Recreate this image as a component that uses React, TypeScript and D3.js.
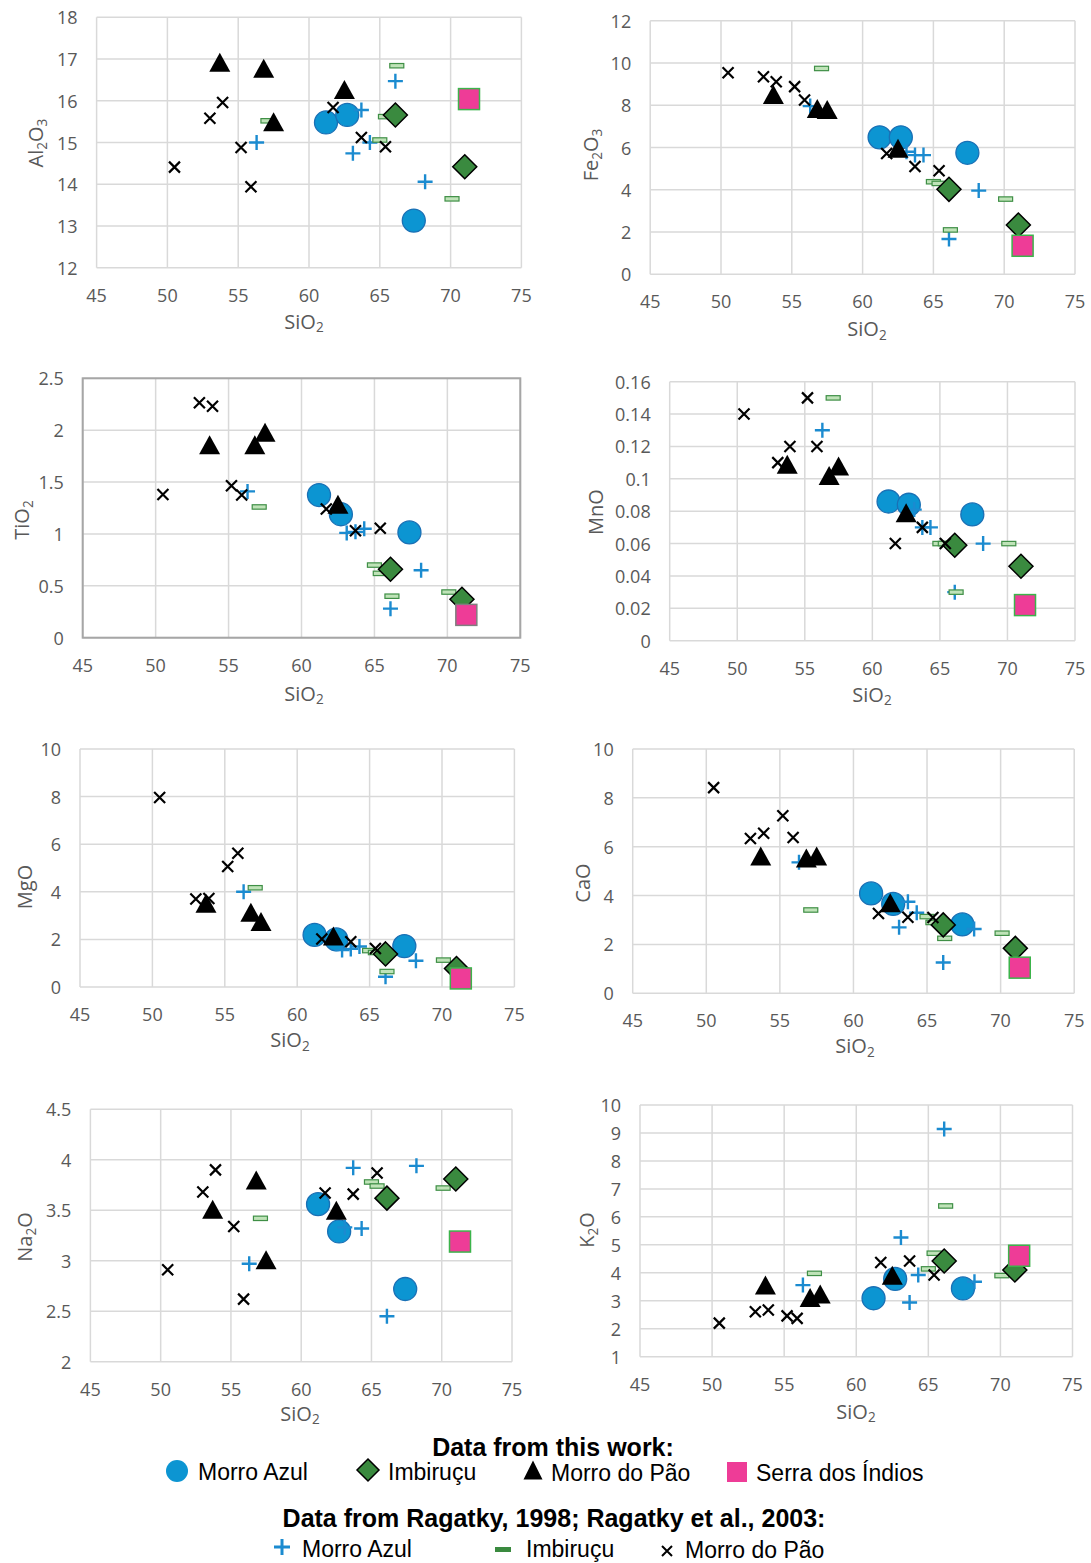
import React from "react";
import * as d3 from "d3";

const FONT = "'Open Sans', 'Noto Sans', sans-serif";
const LEG_FONT = "'Liberation Sans', Arial, sans-serif";

// SiO2 (x values) by sample group
// Data from this work
const maSiO2 = [61.2, 62.7, 67.4]; // Morro Azul
const imSiO2 = [66.1, 71.0]; // Imbiruçu
const mpSiO2 = [53.7, 56.8, 57.5, 62.5]; // Morro do Pão
const sdiSiO2 = [71.3]; // Serra dos Índios
// Data from Ragatky
const rMaSiO2 = [56.3, 63.1, 63.7, 64.3, 66.1, 68.2];
const rImSiO2 = [57.1, 65.0, 65.4, 66.2, 70.1];
const rMpSiO2 = [50.5, 53.0, 53.9, 55.2, 55.9, 61.7, 63.7, 65.4];

// Oxide values (y) per panel, in the same order as the SiO2 arrays
const al2o3 = {
  ma: [15.48, 15.66, 13.13], im: [15.66, 14.42], mp: [16.92, 16.78, 15.5, 16.27], sdi: [16.04],
  rMa: [15.0, 14.74, 15.78, 15.0, 16.47, 14.06],
  rIm: [15.52, 15.06, 15.62, 16.84, 13.65],
  rMp: [14.41, 15.58, 15.96, 14.88, 13.94, 15.84, 15.12, 14.9],
};
const fe2o3 = {
  ma: [6.48, 6.48, 5.75], im: [4.02, 2.33], mp: [8.51, 7.85, 7.8, 5.96], sdi: [1.35],
  rMa: [7.96, 5.8, 5.64, 5.64, 1.67, 3.96],
  rIm: [9.74, 4.38, 4.3, 2.1, 3.56],
  rMp: [9.54, 9.35, 9.11, 8.88, 8.25, 5.72, 5.1, 4.9],
};
const tio2 = {
  ma: [1.375, 1.19, 1.015], im: [0.66, 0.37], mp: [1.86, 1.86, 1.98, 1.285], sdi: [0.22],
  rMa: [1.41, 1.01, 1.02, 1.05, 0.28, 0.65],
  rIm: [1.26, 0.7, 0.62, 0.4, 0.44],
  rMp: [1.38, 2.265, 2.23, 1.465, 1.375, 1.24, 1.03, 1.054],
};
const mno = {
  ma: [0.086, 0.084, 0.078], im: [0.059, 0.046], mp: [0.109, 0.102, 0.108, 0.079], sdi: [0.022],
  rMa: [0.13, 0.081, 0.07, 0.07, 0.03, 0.06],
  rIm: [0.15, 0.06, 0.06, 0.03, 0.06],
  rMp: [0.14, 0.11, 0.12, 0.15, 0.12, 0.06, 0.07, 0.06],
};
const mgo = {
  ma: [2.19, 2.0, 1.72], im: [1.39, 0.78], mp: [3.52, 3.14, 2.75, 2.14], sdi: [0.36],
  rMa: [4.0, 1.55, 1.6, 1.7, 0.43, 1.1],
  rIm: [4.17, 1.53, 1.45, 0.65, 1.13],
  rMp: [7.96, 3.7, 3.72, 5.06, 5.62, 2.02, 1.9, 1.62],
};
const cao = {
  ma: [4.09, 3.66, 2.82], im: [2.8, 1.84], mp: [5.62, 5.54, 5.62, 3.71], sdi: [1.05],
  rMa: [5.36, 2.7, 3.75, 3.3, 1.26, 2.63],
  rIm: [3.41, 3.14, 2.9, 2.25, 2.46],
  rMp: [8.42, 6.34, 6.55, 7.27, 6.38, 3.27, 3.11, 3.1],
};
const na2o = {
  ma: [3.56, 3.29, 2.72], im: [3.62, 3.81], mp: [3.51, 3.8, 3.01, 3.5], sdi: [3.19],
  rMa: [2.97, 3.33, 3.92, 3.32, 2.45, 3.94],
  rIm: [3.42, 3.78, 3.74, 3.62, 3.72],
  rMp: [2.91, 3.68, 3.9, 3.34, 2.62, 3.67, 3.66, 3.87],
};
const k2o = {
  ma: [3.09, 3.78, 3.44], im: [4.42, 4.1], mp: [3.56, 3.12, 3.24, 3.91], sdi: [4.61],
  rMa: [3.56, 5.26, 2.94, 3.92, 9.14, 3.68],
  rIm: [3.98, 4.14, 4.7, 6.39, 3.9],
  rMp: [2.2, 2.61, 2.67, 2.46, 2.37, 4.37, 4.42, 3.92],
};

const xDomain = [45, 75];
const xStep = 5;

// Axis definitions (label, y range, tick step)
const panelAxes = [
  { label: "Al2O3", data: al2o3, domain: [12, 18], step: 1 },
  { label: "Fe2O3", data: fe2o3, domain: [0, 12], step: 2 },
  { label: "TiO2", data: tio2, domain: [0, 2.5], step: 0.5 },
  { label: "MnO", data: mno, domain: [0, 0.16], step: 0.02 },
  { label: "MgO", data: mgo, domain: [0, 10], step: 2 },
  { label: "CaO", data: cao, domain: [0, 10], step: 2 },
  { label: "Na2O", data: na2o, domain: [2, 4.5], step: 0.5 },
  { label: "K2O", data: k2o, domain: [1, 10], step: 1 },
];

// Layout (pixel boxes)
const panelLayout = [
  { x0: 96.6, x1: 521.4, y0: 17.3, y1: 267.7, lx: 35, ly: 143, tx: 304, tdy: 53, frame: false },
  { x0: 650.2, x1: 1075, y0: 20.7, y1: 274.3, lx: 590, ly: 155, tx: 867, tdy: 54, frame: false },
  { x0: 82.7, x1: 520.3, y0: 378.3, y1: 637.7, lx: 21, ly: 520, tx: 304, tdy: 55, frame: true },
  { x0: 669.7, x1: 1075, y0: 381.7, y1: 640.7, lx: 595, ly: 512, tx: 872, tdy: 53, frame: false },
  { x0: 80, x1: 514.4, y0: 749, y1: 987, lx: 24, ly: 887, tx: 290, tdy: 52, frame: false },
  { x0: 632.7, x1: 1074.2, y0: 749, y1: 993.3, lx: 582, ly: 883, tx: 855, tdy: 52, frame: false },
  { x0: 90.4, x1: 512, y0: 1109.3, y1: 1361.7, lx: 24, ly: 1237, tx: 300, tdy: 51, frame: false },
  { x0: 640, x1: 1072.5, y0: 1105, y1: 1356.7, lx: 586, ly: 1230, tx: 856, tdy: 54, frame: false },
];

const C_BLUE = "#0c95d2";
const C_BLUE_S = "#1a70b5";
const C_GREEN = "#3a8a3f";
const C_PINK = "#ee3c97";
const C_PLUS = "#1b8bd0";
const GRID = "#d9d9d9";
const TXT = "#595959";
const TICK_FS = 18;
const TITLE_FS = 20;

function chem(text: string, fs: number) {
  const parts = text.split(/(\d+)/).filter((p) => p.length > 0);
  const out: any[] = [];
  let prevSub = false;
  parts.forEach((p, i) => {
    const isSub = /^\d+$/.test(p);
    if (isSub) {
      out.push(
        <tspan key={i} fontSize={fs * 0.68} dy={fs * 0.28}>
          {p}
        </tspan>
      );
    } else {
      out.push(
        <tspan key={i} fontSize={fs} dy={prevSub ? -fs * 0.28 : 0}>
          {p}
        </tspan>
      );
    }
    prevSub = isSub;
  });
  return out;
}

const triPath = (w: number, h: number) => `M0,${-h / 2}L${w / 2},${h / 2}L${-w / 2},${h / 2}Z`;
const diaPath = (r: number) => `M0,${-r}L${r},0L0,${r}L${-r},0Z`;

function Circle({ x, y }: any) {
  return <circle cx={x} cy={y} r={11.5} fill={C_BLUE} stroke={C_BLUE_S} strokeWidth={1.3} />;
}
function Diamond({ x, y }: any) {
  return <path transform={`translate(${x},${y})`} d={diaPath(12)} fill={C_GREEN} stroke="#000" strokeWidth={1.5} />;
}
function Tri({ x, y }: any) {
  return <path transform={`translate(${x},${y})`} d={triPath(21, 19)} fill="#000" />;
}
function Square({ x, y, stroke }: any) {
  return <rect x={x - 10.5} y={y - 10.5} width={21} height={21} fill={C_PINK} stroke={stroke || "#3cb44b"} strokeWidth={1.5} />;
}
function Plus({ x, y, s = 7.5, w = 2.4 }: any) {
  return (
    <path d={`M${x - s},${y}H${x + s}M${x},${y - s}V${y + s}`} stroke={C_PLUS} strokeWidth={w} fill="none" />
  );
}
function Minus({ x, y }: any) {
  return <rect x={x - 7} y={y - 2.2} width={14} height={4.4} fill="#bfe3b8" stroke="#3f8f46" strokeWidth={1.2} />;
}
function Cross({ x, y, s = 5.5 }: any) {
  return (
    <path d={`M${x - s},${y - s}L${x + s},${y + s}M${x + s},${y - s}L${x - s},${y + s}`} stroke="#000" strokeWidth={2.2} fill="none" />
  );
}

function fmt(v: number) {
  return String(+v.toFixed(4));
}

function Panel({ axes, lay }: any) {
  const xs = d3.scaleLinear().domain(xDomain).range([lay.x0, lay.x1]);
  const ys = d3.scaleLinear().domain(axes.domain).range([lay.y1, lay.y0]);
  const nx = Math.round((xDomain[1] - xDomain[0]) / xStep);
  const xTicks = d3.range(0, nx + 1).map((i) => xDomain[0] + i * xStep);
  const ny = Math.round((axes.domain[1] - axes.domain[0]) / axes.step);
  const yTicks = d3.range(0, ny + 1).map((i) => +(axes.domain[0] + i * axes.step).toFixed(4));
  const d = axes.data;
  const pts = (xsArr: number[], ysArr: number[]) => xsArr.map((v, i) => ({ x: xs(v), y: ys(ysArr[i]), k: i }));
  return (
    <g>
      {xTicks.map((t) => (
        <line key={"gx" + t} x1={xs(t)} x2={xs(t)} y1={lay.y0} y2={lay.y1} stroke={GRID} strokeWidth={1.5} />
      ))}
      {yTicks.map((t) => (
        <line key={"gy" + t} x1={lay.x0} x2={lay.x1} y1={ys(t)} y2={ys(t)} stroke={GRID} strokeWidth={1.5} />
      ))}
      {lay.frame && (
        <rect x={lay.x0} y={lay.y0} width={lay.x1 - lay.x0} height={lay.y1 - lay.y0} fill="none" stroke="#a6a6a6" strokeWidth={2} />
      )}
      {xTicks.map((t) => (
        <text key={"tx" + t} x={xs(t)} y={lay.y1 + 27} textAnchor="middle" dominantBaseline="central" fontSize={TICK_FS} fill={TXT} fontFamily={FONT}>
          {fmt(t)}
        </text>
      ))}
      {yTicks.map((t) => (
        <text key={"ty" + t} x={lay.x0 - 19} y={ys(t)} textAnchor="end" dominantBaseline="central" fontSize={TICK_FS} fill={TXT} fontFamily={FONT}>
          {fmt(t)}
        </text>
      ))}
      <text x={lay.tx} y={lay.y1 + lay.tdy} textAnchor="middle" dominantBaseline="central" fill={TXT} fontFamily={FONT} fontSize={TITLE_FS}>
        {chem("SiO2", TITLE_FS)}
      </text>
      <text transform={`translate(${lay.lx},${lay.ly}) rotate(-90)`} textAnchor="middle" dominantBaseline="central" fill={TXT} fontFamily={FONT} fontSize={TITLE_FS}>
        {chem(axes.label, TITLE_FS)}
      </text>
      {pts(maSiO2, d.ma).map((p) => <Circle key={"c" + p.k} x={p.x} y={p.y} />)}
      {pts(rMaSiO2, d.rMa).map((p) => <Plus key={"p" + p.k} x={p.x} y={p.y} />)}
      {pts(rImSiO2, d.rIm).map((p) => <Minus key={"m" + p.k} x={p.x} y={p.y} />)}
      {pts(imSiO2, d.im).map((p) => <Diamond key={"d" + p.k} x={p.x} y={p.y} />)}
      {pts(mpSiO2, d.mp).map((p) => <Tri key={"t" + p.k} x={p.x} y={p.y} />)}
      {pts(sdiSiO2, d.sdi).map((p) => <Square key={"s" + p.k} x={p.x} y={p.y} stroke={lay.frame ? "#7f7f7f" : undefined} />)}
      {pts(rMpSiO2, d.rMp).map((p) => <Cross key={"x" + p.k} x={p.x} y={p.y} />)}
    </g>
  );
}

const legendTitle1 = "Data from this work:";
const legendTitle2 = "Data from Ragatky, 1998; Ragatky et al., 2003:";
const legendRow1 = ["Morro Azul", "Imbiruçu", "Morro do Pão", "Serra dos Índios"];
const legendRow2 = ["Morro Azul", "Imbiruçu", "Morro do Pão"];

function Legend() {
  const fs = 23;
  return (
    <g fontFamily={LEG_FONT} fill="#000">
      <text x={553} y={1456} textAnchor="middle" fontWeight="bold" fontSize={25}>
        {legendTitle1}
      </text>
      <circle cx={177} cy={1471} r={11} fill={C_BLUE} />
      <text x={198} y={1480} fontSize={fs}>{legendRow1[0]}</text>
      <path transform="translate(368,1470)" d={diaPath(11)} fill={C_GREEN} stroke="#000" strokeWidth={1.5} />
      <text x={388} y={1480} fontSize={fs}>{legendRow1[1]}</text>
      <path transform="translate(533,1470)" d={triPath(19, 19)} fill="#000" />
      <text x={551} y={1481} fontSize={fs}>{legendRow1[2]}</text>
      <rect x={727} y={1462} width={20} height={20} fill={C_PINK} />
      <text x={756} y={1481} fontSize={fs}>{legendRow1[3]}</text>

      <text x={554} y={1527} textAnchor="middle" fontWeight="bold" fontSize={25}>
        {legendTitle2}
      </text>
      <Plus x={282} y={1547} s={8} w={3} />
      <text x={302} y={1557} fontSize={fs}>{legendRow2[0]}</text>
      <rect x={495} y={1547} width={16} height={5} fill={C_GREEN} />
      <text x={526} y={1557} fontSize={fs}>{legendRow2[1]}</text>
      <path d="M662,1546L672,1556M672,1546L662,1556" stroke="#000" strokeWidth={2} />
      <text x={685} y={1558} fontSize={fs}>{legendRow2[2]}</text>
    </g>
  );
}

export default function App() {
  return (
    <svg
      width={1091}
      height={1563}
      style={{ position: "absolute", left: 0, top: 0, background: "#fff" }}
    >
      <rect width={1091} height={1563} fill="#fff" />
      {panelAxes.map((a, i) => (
        <Panel key={a.label} axes={a} lay={panelLayout[i]} />
      ))}
      <Legend />
    </svg>
  );
}
